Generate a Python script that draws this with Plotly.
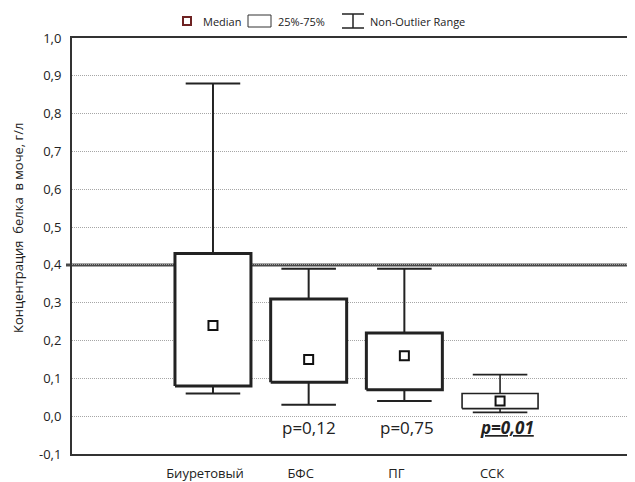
import plotly.graph_objects as go

# ---- data ----
categories = ["Биуретовый", "БФС", "ПГ", "ССК"]
upper_whisker = [0.88, 0.39, 0.39, 0.11]
q3_values = [0.43, 0.31, 0.22, 0.06]
median_values = [0.24, 0.15, 0.16, 0.04]
q1_values = [0.08, 0.09, 0.07, 0.02]
lower_whisker = [0.06, 0.03, 0.04, 0.01]
p_labels = ["", "p=0,12", "p=0,75", "<b><i><u>p=0,01</u></i></b>"]
reference_level = 0.4
y_tick_values = [-0.1, 0.0, 0.1, 0.2, 0.3, 0.4, 0.5, 0.6, 0.7, 0.8, 0.9, 1.0]
y_tick_labels = ["-0,1", "0,0", "0,1", "0,2", "0,3", "0,4", "0,5", "0,6", "0,7", "0,8", "0,9", "1,0"]

# ---- style ----
OFF = 8                      # page body margin of the html page
W, H = 635 - OFF, 482 - OFF  # figure size so that it fills the window
ML, MR, MT = 72 - OFF, 0, 38 - OFF
PW, PH = 563, 416
MB = H - MT - PH
FONT = "Open Sans"
DARK = "#222222"
box_half = 0.397
cap_half = 0.285
box_lw = [3, 3, 3, 1.6]
whisk_lw = [2, 2, 2, 1.6]
p_xshift = [0, 0, 3, 7]


def px(x):
    """screen pixel x -> paper coordinate"""
    return (x - OFF - ML) / PW


def py(y):
    """screen pixel y -> paper coordinate"""
    return (MT + PH - (y - OFF)) / PH


fig = go.Figure()
xs = list(range(1, len(categories) + 1))

for i, xc in enumerate(xs):
    wx = [xc, xc, None, xc - cap_half, xc + cap_half, None,
          xc, xc, None, xc - cap_half, xc + cap_half]
    wy = [q3_values[i], upper_whisker[i], None, upper_whisker[i], upper_whisker[i], None,
          q1_values[i], lower_whisker[i], None, lower_whisker[i], lower_whisker[i]]
    fig.add_trace(go.Scatter(x=wx, y=wy, mode="lines",
                             line=dict(color=DARK, width=whisk_lw[i]),
                             hoverinfo="skip", showlegend=False))
    bx = [xc - box_half, xc + box_half, xc + box_half, xc - box_half, xc - box_half]
    by = [q1_values[i], q1_values[i], q3_values[i], q3_values[i], q1_values[i]]
    fig.add_trace(go.Scatter(x=bx, y=by, mode="lines", fill="toself",
                             fillcolor="white",
                             line=dict(color=DARK, width=box_lw[i]),
                             hoverinfo="skip", showlegend=False))

fig.add_trace(go.Scatter(x=xs, y=median_values, mode="markers",
                         marker=dict(symbol="square", size=9, color="white",
                                     line=dict(color="#111111", width=2)),
                         showlegend=False))

# reference line at 0.4
fig.add_shape(type="line", xref="paper", yref="y", x0=px(66), x1=1,
              y0=reference_level, y1=reference_level,
              line=dict(color="#4a4a4a", width=3), layer="below")

# p-value annotations
for xc, lab, sh in zip(xs, p_labels, p_xshift):
    if lab:
        fig.add_annotation(x=xc, y=-0.03, xref="x", yref="y", text=lab,
                           showarrow=False, xanchor="center", yanchor="middle",
                           xshift=sh,
                           font=dict(family=FONT, size=17, color=DARK))

# y-axis title
fig.add_annotation(x=px(18), y=py(228), xref="paper", yref="paper",
                   text="Концентрация  белка  в моче, г/л", textangle=-90,
                   xanchor="center", yanchor="middle",
                   showarrow=False, font=dict(family=FONT, size=13, color=DARK))

# custom legend
ly = 21
leg_font = dict(family=FONT, size=11, color=DARK)
fig.add_shape(type="rect", xref="paper", yref="paper",
              x0=px(183), x1=px(191), y0=py(17), y1=py(25),
              line=dict(color="#6e2222", width=2), fillcolor="white")
fig.add_annotation(x=px(201), y=py(ly), xref="paper", yref="paper", text="Median",
                   xanchor="left", yanchor="middle", showarrow=False, font=leg_font)
fig.add_shape(type="rect", xref="paper", yref="paper",
              x0=px(248), x1=px(271), y0=py(15), y1=py(27),
              line=dict(color="#333333", width=1), fillcolor="white")
fig.add_annotation(x=px(276), y=py(ly), xref="paper", yref="paper", text="25%-75%",
                   xanchor="left", yanchor="middle", showarrow=False, font=leg_font)
for (a, b, c, d) in [(342, 14, 364, 14), (342, 28, 364, 28), (353, 14, 353, 28)]:
    fig.add_shape(type="line", xref="paper", yref="paper",
                  x0=px(a), y0=py(b), x1=px(c), y1=py(d),
                  line=dict(color="#222222", width=1.5))
fig.add_annotation(x=px(368), y=py(ly), xref="paper", yref="paper",
                   text="Non-Outlier Range",
                   xanchor="left", yanchor="middle", showarrow=False, font=leg_font)

fig.update_layout(
    width=W, height=H,
    margin=dict(l=ML, r=MR, t=MT, b=MB, autoexpand=False),
    paper_bgcolor="white", plot_bgcolor="white",
    font=dict(family=FONT, size=13, color=DARK),
    showlegend=False,
    xaxis=dict(range=[-0.473, 5.41], tickvals=xs, ticktext=categories,
               showgrid=False, zeroline=False, showline=True, mirror=True,
               linecolor="#333333", linewidth=2, ticks="outside", ticklen=0,
               ticklabelstandoff=6, ticklabelshift=-8,
               tickfont=dict(family=FONT, size=13, color=DARK),
               automargin=False),
    yaxis=dict(range=[-0.1, 1.0], tickvals=y_tick_values, ticktext=y_tick_labels,
               showgrid=True, gridcolor="#a6a6a6", griddash="1px,1px", gridwidth=1,
               zeroline=False, showline=True, linecolor="#333333", linewidth=2,
               ticks="outside", ticklen=0, ticklabelstandoff=6,
               tickfont=dict(family=FONT, size=13, color=DARK),
               automargin=False),
)

fig.write_html("out.html")
